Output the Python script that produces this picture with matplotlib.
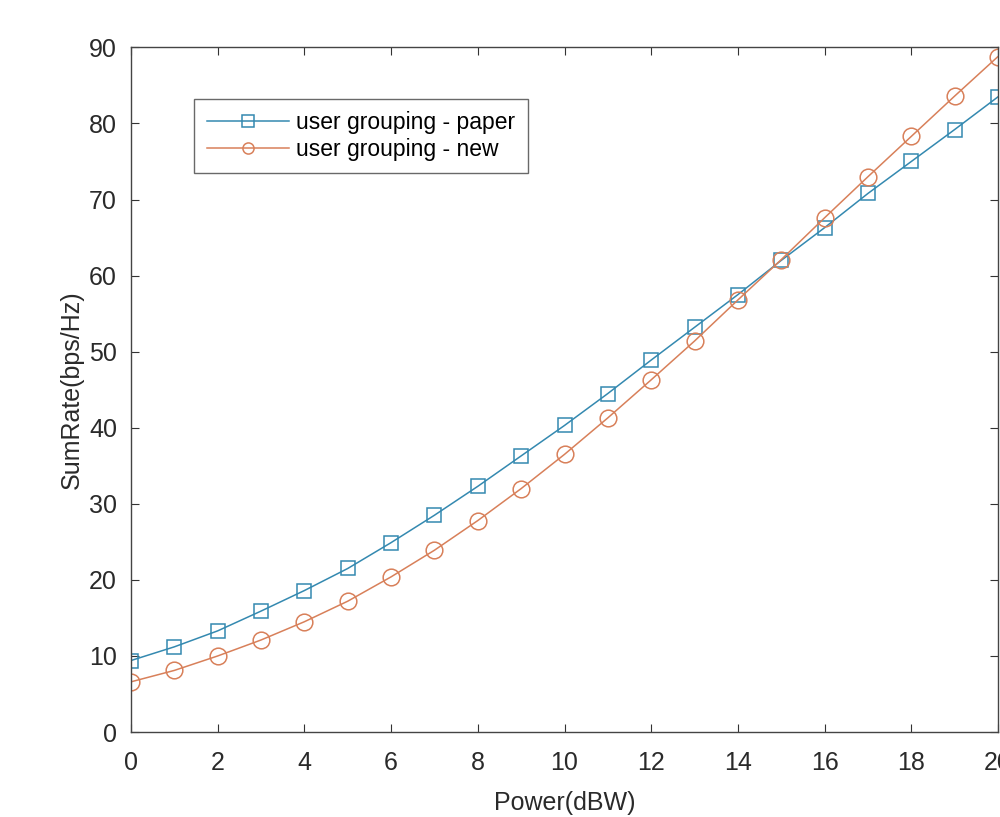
import numpy as np
import matplotlib.pyplot as plt

power = list(range(0, 21))
rate_paper = [9.4, 11.2, 13.3, 15.9, 18.6, 21.5, 24.9, 28.5, 32.3, 36.3, 40.3,
              44.5, 48.9, 53.2, 57.5, 62.0, 66.3, 70.8, 75.0, 79.2, 83.5]
rate_new = [6.6, 8.1, 10.0, 12.1, 14.5, 17.2, 20.4, 23.9, 27.8, 32.0, 36.5,
            41.3, 46.3, 51.4, 56.8, 62.1, 67.6, 73.0, 78.3, 83.6, 88.8]

plt.rcParams['font.family'] = ['Liberation Sans', 'DejaVu Sans']

fig = plt.figure(figsize=(10, 8.17), dpi=100)
ax = fig.add_axes([0.131, 0.104, 0.867, 0.838])

blue = '#3489b0'
orange = '#d8805a'
ax.plot(power, rate_paper, color=blue, lw=1.1, marker='s', ms=10, mfc='none',
        mew=1.1, label='user grouping - paper')
ax.plot(power, rate_new, color=orange, lw=1.1, marker='o', ms=12, mfc='none',
        mew=1.1, label='user grouping - new')

ax.set_xlim(0, 20)
ax.set_ylim(0, 90)
ax.set_xticks(range(0, 21, 2))
ax.set_yticks(range(0, 91, 10))
ax.tick_params(direction='in', top=True, right=True, labelsize=18,
               color='#333333', labelcolor='#2a2a2a', length=6)
ax.tick_params(axis='x', pad=14)
ax.tick_params(axis='y', pad=10)
for s in ax.spines.values():
    s.set_color('#444444')
    s.set_linewidth(1.0)

ax.set_xlabel('Power(dBW)', fontsize=18, color='#2a2a2a', labelpad=11)
ax.set_ylabel('SumRate(bps/Hz)', fontsize=18, color='#2a2a2a', labelpad=4)

leg = ax.legend(loc='upper left', bbox_to_anchor=(0.073, 0.925), fontsize=16.5,
                frameon=True, fancybox=False, edgecolor='#444444',
                handlelength=3.6, handletextpad=0.3, borderpad=0.55,
                labelspacing=0.15, borderaxespad=0)
leg.get_frame().set_linewidth(1.0)
for h in leg.legend_handles:
    h.set_markersize(8)

fig.savefig('out.png', dpi=100)
